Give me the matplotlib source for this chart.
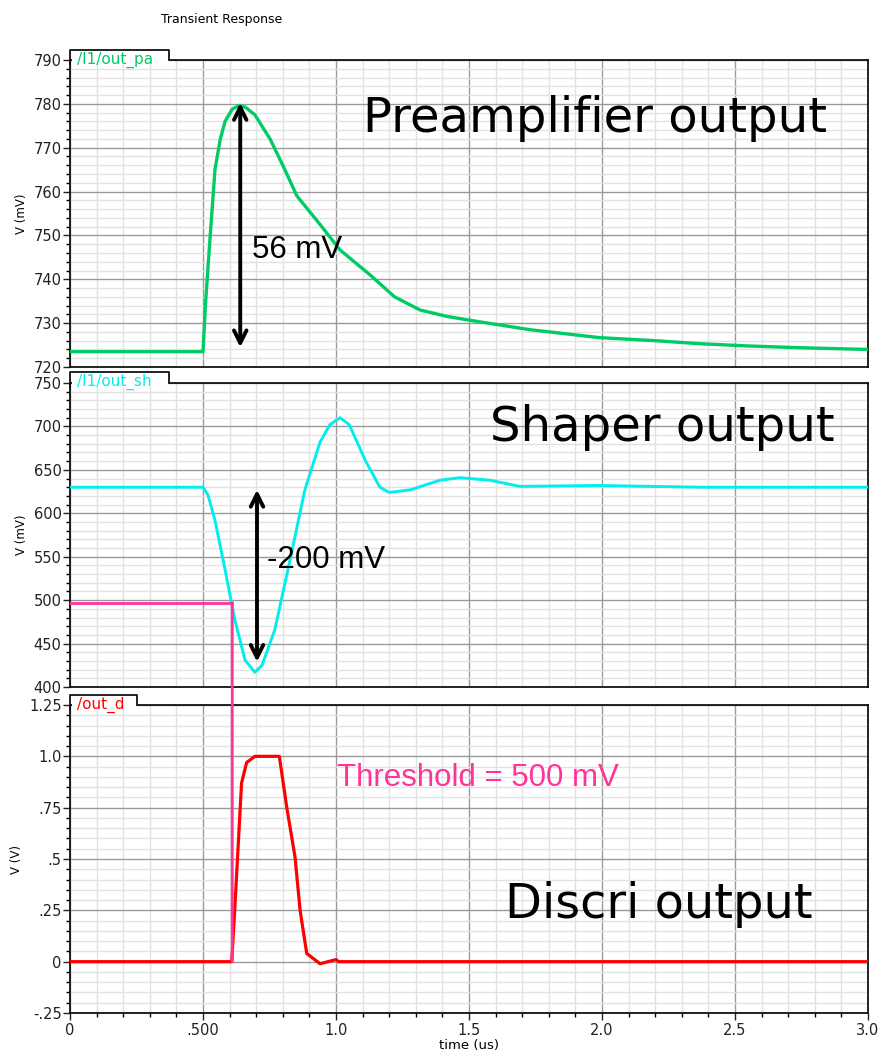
import matplotlib.pyplot as plt
from matplotlib.patches import Rectangle, ConnectionPatch
from matplotlib.lines import Line2D
from matplotlib.ticker import MultipleLocator, FixedLocator

# Datos (tiempo en us)
t_pa = [0.0, 0.50, 0.51, 0.526, 0.545, 0.565, 0.583, 0.61, 0.635, 0.66, 0.695,
        0.752, 0.80, 0.853, 0.94, 1.015, 1.128, 1.22, 1.316, 1.42, 1.54, 1.73,
        1.99, 2.2, 2.37, 2.55, 2.74, 3.0]
v_pa = [723.5, 723.5, 735.0, 749.0, 765.0, 772.0, 776.0, 778.8, 779.6, 779.2, 777.5,
        772.0, 766.0, 759.0, 752.5, 746.7, 741.0, 736.0, 733.0, 731.5, 730.3, 728.5,
        726.7, 726.0, 725.3, 724.8, 724.4, 724.0]

t_sh = [0.0, 0.50, 0.519, 0.545, 0.583, 0.62, 0.658, 0.695, 0.722, 0.77, 0.827,
        0.883, 0.94, 0.977, 1.015, 1.05, 1.11, 1.165, 1.2, 1.28, 1.39, 1.466,
        1.58, 1.69, 1.99, 2.37, 3.0]
v_sh = [630, 630, 621, 592, 535, 477, 431, 417, 425, 466, 546,
        627, 682, 702, 710, 702, 661, 630, 624, 627, 638, 641,
        638, 631, 632, 630, 630]

t_d = [0.0, 0.608, 0.62, 0.645, 0.664, 0.695, 0.745, 0.787, 0.815, 0.846, 0.865,
       0.89, 0.94, 1.0, 1.01, 3.0]
v_d = [0.0, 0.0, 0.27, 0.87, 0.97, 1.0, 1.0, 1.0, 0.75, 0.51, 0.25,
       0.04, -0.01, 0.01, 0.0, 0.0]

umbral_v = 497
umbral_t = 0.61

flecha_pa = (0.64, 724.5, 780.2)
flecha_sh = (0.703, 429, 627)

x_ticks = [0, 0.5, 1.0, 1.5, 2.0, 2.5, 3.0]
x_labels = ['0', '.500', '1.0', '1.5', '2.0', '2.5', '3.0']
y_ticks_pa = [720, 730, 740, 750, 760, 770, 780, 790]
y_ticks_sh = [400, 450, 500, 550, 600, 650, 700, 750]
y_ticks_d = [-0.25, 0, 0.25, 0.5, 0.75, 1.0, 1.25]
y_labels_d = ['-.25', '0', '.25', '.5', '.75', '1.0', '1.25']

verde = '#00cc66'
cian = '#00eeee'
rojo = '#ff0000'
rosa = '#ff3399'

fig = plt.figure(figsize=(8.82, 10.59), dpi=100)
W, H = 882, 1059


def crear_eje(top_px, bottom_px):
    left, right = 70, 868
    return fig.add_axes([left / W, 1 - bottom_px / H, (right - left) / W, (bottom_px - top_px) / H])


def estilo(ax, yticks, ymin_step, tab_text, tab_color, tab_w, tab_h):
    ax.set_xlim(0, 3.0)
    ax.set_ylim(yticks[0], yticks[-1])
    ax.yaxis.set_major_locator(FixedLocator(yticks))
    ax.yaxis.set_minor_locator(MultipleLocator(ymin_step))
    ax.xaxis.set_major_locator(FixedLocator(x_ticks))
    ax.xaxis.set_minor_locator(MultipleLocator(0.1))
    ax.grid(which='minor', color='#e2e2e2', lw=1.0)
    ax.grid(which='major', color='#9a9a9a', lw=1.0)
    ax.set_axisbelow(True)
    ax.tick_params(axis='y', which='major', length=5, width=1, labelsize=10.5, pad=1, colors='#222222')
    ax.tick_params(axis='y', which='minor', length=3, width=1)
    for s in ax.spines.values():
        s.set_linewidth(1.3)
        s.set_color('#111111')
    ax.set_ylabel('V (mV)', fontsize=8.5, labelpad=4)
    # pestaña con el nombre de la señal
    h = tab_h / (ax.get_position().height * H)
    d = 0.014
    fondo = Rectangle((0.002, 1 - d), tab_w - 0.002, h + d, transform=ax.transAxes,
                      facecolor='white', edgecolor='none', clip_on=False, zorder=5)
    ax.add_patch(fondo)
    borde = Line2D([0, 0, tab_w, tab_w], [1 - d, 1 + h, 1 + h, 1], transform=ax.transAxes,
                   color='#111111', lw=1.3, clip_on=False, zorder=5.5)
    ax.add_line(borde)
    ax.text(0.009, 1 + h * 0.85, tab_text, transform=ax.transAxes, color=tab_color,
            fontsize=11, va='top', ha='left', zorder=6)


ax1 = crear_eje(60, 367)
ax2 = crear_eje(383, 687)
ax3 = crear_eje(705, 1013)

estilo(ax1, y_ticks_pa, 2, '/I1/out_pa', verde, 0.124, 10)
estilo(ax2, y_ticks_sh, 10, '/I1/out_sh', cian, 0.124, 11)
estilo(ax3, y_ticks_d, 0.05, '/out_d', rojo, 0.084, 10)
ax3.set_yticklabels(y_labels_d)
ax3.set_ylabel('V (V)', fontsize=8.5, labelpad=4)

for ax in (ax1, ax2):
    ax.tick_params(axis='x', which='both', length=0, labelbottom=False)

ax3.set_xticklabels(x_labels)
ax3.tick_params(axis='x', which='major', length=5, width=1, labelsize=10.5, pad=2, colors='#222222')
ax3.tick_params(axis='x', which='minor', length=3, width=1)
ax3.set_xlabel('time (us)', fontsize=9.5, labelpad=1)

fig.text(222 / W, 1 - 20 / H, 'Transient Response', fontsize=9, ha='center', va='center')

# curvas
ax1.plot(t_pa, v_pa, color=verde, lw=2.4, zorder=3)
ax2.plot(t_sh, v_sh, color=cian, lw=2.1, zorder=3)
ax3.plot(t_d, v_d, color=rojo, lw=2.3, zorder=3)

# umbral
ax2.plot([0, umbral_t], [umbral_v, umbral_v], color=rosa, lw=2.0, zorder=4)
con = ConnectionPatch(xyA=(umbral_t, umbral_v), coordsA=ax2.transData,
                      xyB=(umbral_t, 0), coordsB=ax3.transData,
                      color=rosa, lw=2.0, zorder=4)
fig.add_artist(con)

# flechas
flecha = dict(arrowstyle='<->,head_length=0.9,head_width=0.45', color='black', lw=2.8,
              shrinkA=0, shrinkB=0)
ax1.annotate('', xy=(flecha_pa[0], flecha_pa[1]), xytext=(flecha_pa[0], flecha_pa[2]),
             arrowprops=flecha, zorder=5)
ax2.annotate('', xy=(flecha_sh[0], flecha_sh[1]), xytext=(flecha_sh[0], flecha_sh[2]),
             arrowprops=flecha, zorder=5)

# textos
arial = 'Liberation Sans'
ax1.text(0.228, 0.381, '56 mV', transform=ax1.transAxes, fontsize=22.5, family=arial,
         va='center', ha='left', zorder=6)
ax2.text(0.247, 0.418, '-200 mV', transform=ax2.transAxes, fontsize=22.5, family=arial,
         va='center', ha='left', zorder=6)
ax3.text(0.335, 0.763, 'Threshold = 500 mV', transform=ax3.transAxes, fontsize=22.5,
         family=arial, color=rosa, va='center', ha='left', zorder=6)

ax1.text(0.367, 0.811, 'Preamplifier output', transform=ax1.transAxes, fontsize=34.7,
         va='center', ha='left', zorder=6)
ax2.text(0.526, 0.852, 'Shaper output', transform=ax2.transAxes, fontsize=34.7,
         va='center', ha='left', zorder=6)
ax3.text(0.545, 0.351, 'Discri output', transform=ax3.transAxes, fontsize=34.5,
         va='center', ha='left', zorder=6)

fig.savefig('out.png', dpi=100)
